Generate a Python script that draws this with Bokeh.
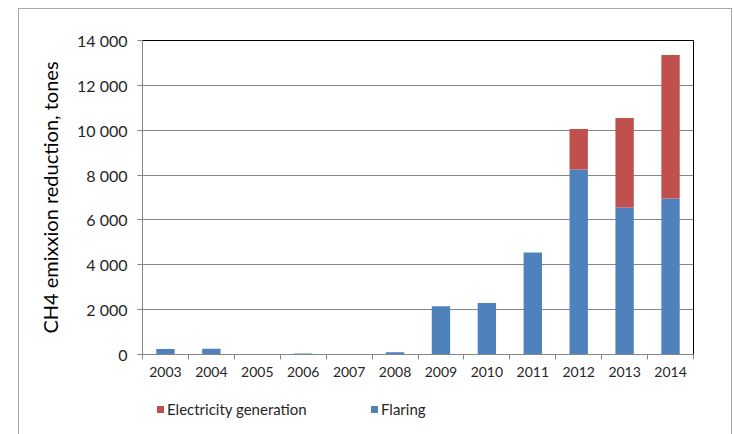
from bokeh.plotting import figure
from bokeh.models import Range1d, FixedTicker, ColumnDataSource, Div
from bokeh.layouts import column
from bokeh.embed import file_html
from bokeh.resources import INLINE

years = [2003, 2004, 2005, 2006, 2007, 2008, 2009, 2010, 2011, 2012, 2013, 2014]
flaring = [250, 260, 0, 50, 0, 100, 2150, 2300, 4550, 8250, 6550, 6950]
electricity = [0, 0, 0, 0, 0, 0, 0, 0, 0, 1800, 4000, 6400]
y_ticks = [0, 2000, 4000, 6000, 8000, 10000, 12000, 14000]
y_title = "CH4 emixxion reduction, tones"
series_names = ["Electricity generation", "Flaring"]

BLUE = "#4F81BD"
RED = "#C0504D"
FONT = "Lato"
TXT = "#262626"
BORDER = "1px solid #a6a6a6"

src = ColumnDataSource(dict(year=years, flaring=flaring, electricity=electricity))

p = figure(width=712, height=385, output_backend="svg", toolbar_location=None,
           x_range=Range1d(2002.5, 2014.5), y_range=Range1d(0, 14000),
           min_border_left=123, min_border_right=38, min_border_top=31, min_border_bottom=40)

rs = p.vbar_stack(["flaring", "electricity"], x="year", width=0.4, color=[BLUE, RED],
                  line_color=None, source=src)

p.outline_line_color = "#000000"
p.outline_line_width = 1

# x axis
p.xaxis.ticker = FixedTicker(ticks=years, minor_ticks=[y - 0.5 for y in years] + [years[-1] + 0.5])
p.xaxis.major_tick_out = 0
p.xaxis.major_tick_in = 0
p.xaxis.minor_tick_out = 5
p.xaxis.minor_tick_in = 0
p.xaxis.minor_tick_line_color = "#868686"
p.xaxis.axis_line_color = "#868686"
p.xaxis.major_label_standoff = 7
p.xaxis.major_label_text_font = FONT
p.xaxis.major_label_text_font_size = "14px"
p.xaxis.major_label_text_color = TXT
p.xgrid.grid_line_color = None

# y axis
p.yaxis.ticker = FixedTicker(ticks=y_ticks, minor_ticks=[])
p.yaxis.major_label_overrides = {v: f"{v:,}".replace(",", " ") for v in y_ticks}
p.yaxis.major_tick_out = 5
p.yaxis.major_tick_in = 0
p.yaxis.major_tick_line_color = "#868686"
p.yaxis.axis_line_color = "#868686"
p.yaxis.major_label_standoff = 10
p.yaxis.major_label_text_font = FONT
p.yaxis.major_label_text_font_size = "16px"
p.yaxis.major_label_text_color = TXT
p.yaxis.axis_label = y_title
p.yaxis.axis_label_text_font = FONT
p.yaxis.axis_label_text_font_style = "normal"
p.yaxis.axis_label_text_font_size = "20px"
p.yaxis.axis_label_text_color = "#000000"
p.yaxis.axis_label_standoff = 12
p.ygrid.grid_line_color = "#868686"
p.ygrid.grid_line_width = 1

def legend_item(label, color, left):
    return (f'<div style="position:absolute;left:{left}px;top:12px;width:7px;height:7px;'
            f'background:{color};"></div>'
            f'<div style="position:absolute;left:{left + 10}px;top:5px;line-height:20px;'
            f'font-family:{FONT};font-size:15px;color:{TXT};white-space:nowrap;">{label}</div>')

legend_html = ('<div style="position:relative;width:712px;height:40px;">'
               + legend_item(series_names[0], RED, 138)
               + legend_item(series_names[1], BLUE, 352)
               + '</div>')
leg = Div(text=legend_html, width=712, height=40, margin=0)

layout = column(p, leg, spacing=0)
layout.styles = {"margin-left": "18px", "margin-top": "8px", "border-left": BORDER,
                 "border-top": BORDER, "border-right": BORDER}
open("out.html", "w").write(file_html(layout, INLINE))
